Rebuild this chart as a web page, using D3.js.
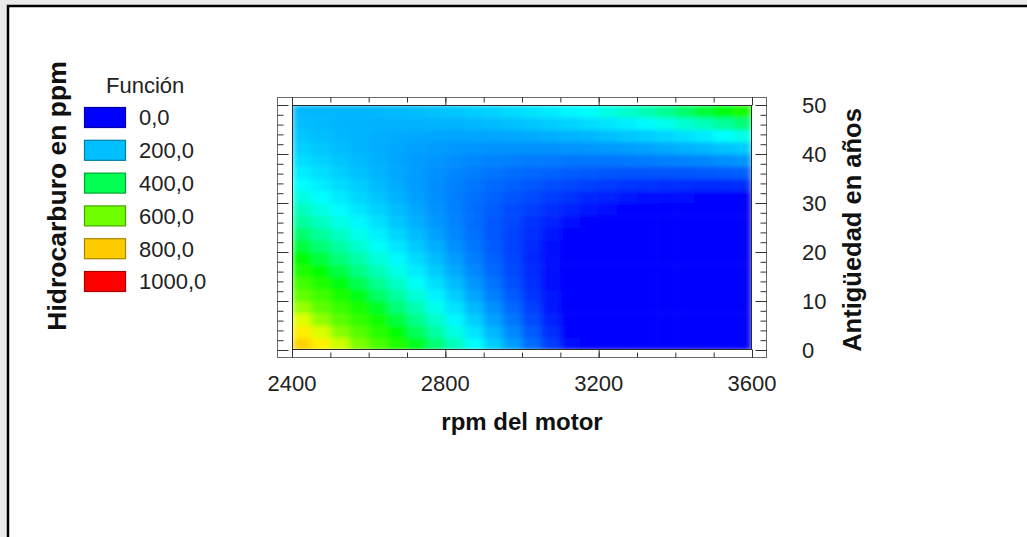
<!DOCTYPE html>
<html>
<head>
<meta charset="utf-8">
<script src="https://cdn.jsdelivr.net/npm/d3@7"></script>
<style>
  html, body { margin: 0; padding: 0; background: #ffffff; overflow: hidden; }
  svg { display: block; font-family: "Liberation Sans", Arial, sans-serif; }
</style>
</head>
<body>
<svg id="chart" width="1027" height="537"></svg>
<script>
// ---- data ----
const rpmCenters = [2425,2475,2525,2575,2625,2675,2725,2775,2825,2875,2925,2975,
                    3025,3075,3125,3175,3225,3275,3325,3375,3425,3475,3525,3575];
const ageCenters = [1.25,3.75,6.25,8.75,11.25,13.75,16.25,18.75,21.25,23.75,
                    26.25,28.75,31.25,33.75,36.25,38.75,41.25,43.75,46.25,48.75];
// hydrocarbon (ppm), one row per age, columns follow rpmCenters
const hcByAge = [
  [789,727,666,607,548,490,434,378,323,269,216,164,113,64,15,0,0,0,0,0,0,0,0,0],
  [732,674,616,560,504,450,396,343,292,241,191,143,95,48,2,0,0,0,0,0,0,0,0,0],
  [678,623,569,515,463,412,361,312,263,216,169,124,79,35,0,0,0,0,0,0,0,0,0,0],
  [627,575,524,474,425,376,329,283,238,193,150,107,66,26,0,0,0,0,0,0,0,0,0,0],
  [579,530,482,435,389,344,300,257,215,173,133,94,56,19,0,0,0,0,0,0,0,0,0,0],
  [534,488,443,399,356,314,274,234,195,157,120,83,48,14,0,0,0,0,0,0,0,0,0,0],
  [491,448,407,366,326,288,250,213,177,142,109,76,44,13,0,0,0,0,0,0,0,0,0,0],
  [451,412,373,336,299,264,229,195,163,131,100,71,42,14,0,0,0,0,0,0,0,0,0,0],
  [414,378,343,308,275,242,211,181,151,123,95,69,43,18,0,0,0,0,0,0,0,0,0,0],
  [380,347,315,283,253,224,196,168,142,117,93,69,47,25,5,0,0,0,0,0,0,0,0,0],
  [349,319,290,262,235,208,183,159,136,114,93,73,53,35,18,1,0,0,0,0,0,0,0,0],
  [320,293,267,242,219,196,174,153,133,114,96,79,63,48,33,20,8,0,0,0,0,0,0,0],
  [294,270,248,226,205,186,167,149,132,117,102,88,75,63,52,42,33,25,18,12,7,2,0,0],
  [271,251,231,213,195,179,163,148,135,122,110,100,90,81,73,67,61,56,52,49,47,46,46,47],
  [251,234,217,202,188,174,162,150,140,130,122,114,108,102,97,94,91,89,89,89,90,92,95,99],
  [233,219,206,194,183,173,163,155,148,141,136,132,128,126,124,124,124,126,128,132,136,141,148,155],
  [219,208,198,189,181,174,168,163,159,155,153,152,152,152,154,157,160,165,171,177,185,193,203,213],
  [207,199,192,187,182,178,175,173,172,172,173,175,178,182,187,192,199,207,216,225,236,250,270,290],
  [198,193,190,187,185,185,185,186,188,191,196,201,207,214,222,231,241,252,266,285,305,325,350,375],
  [192,190,190,190,192,194,198,202,207,214,221,229,239,249,260,275,292,310,330,355,385,415,445,475]
];
const xTickValues = [2400,2800,3200,3600];
const xTickLabels = ["2400","2800","3200","3600"];
const yTickValues = [0,10,20,30,40,50];
const yTickLabels = ["0","10","20","30","40","50"];
const legendValues = [0,200,400,600,800,1000];
const legendLabels = ["0,0","200,0","400,0","600,0","800,0","1000,0"];
const legendTitle = "Función";
const xTitle = "rpm del motor";
const yTitle = "Antigüedad en años";
const zTitle = "Hidrocarburo en ppm";

// ---- drawing ----
const svg = d3.select("#chart");
const W = 1027, H = 537;
const plot = {left: 292, right: 752, top: 105, bottom: 350};
const frame = {left: 277.5, right: 766.5, top: 97.5, bottom: 357.5};

const x = d3.scaleLinear().domain([2400, 3600]).range([plot.left, plot.right]);
const y = d3.scaleLinear().domain([0, 50]).range([plot.bottom, plot.top]);
const color = d3.scaleLinear()
  .domain([0, 200, 270, 370, 450, 600, 700, 800, 1000])
  .range(["#0000ff", "#00c0ff", "#00ffff", "#00ff80", "#00ff00", "#70ff00", "#ffff00", "#ffcc00", "#ff0000"])
  .clamp(true);

// page background & outer border
svg.append("rect").attr("x", 0).attr("y", 0).attr("width", W).attr("height", H).attr("fill", "#ebebeb");
svg.append("rect").attr("x", 8).attr("y", 6).attr("width", W + 40).attr("height", H + 40)
  .attr("fill", "#ffffff").attr("stroke", "#000").attr("stroke-width", 2.5);

// plot frame
svg.append("rect").attr("x", frame.left).attr("y", frame.top)
  .attr("width", frame.right - frame.left).attr("height", frame.bottom - frame.top)
  .attr("fill", "#fff").attr("stroke", "#6a6a6a").attr("stroke-width", 1);

// heatmap
const defs = svg.append("defs");
const filt = defs.append("filter").attr("id", "smooth")
  .attr("x", 0).attr("y", 0).attr("width", 1).attr("height", 1);
filt.append("feGaussianBlur").attr("stdDeviation", "3.5 2.2").attr("edgeMode", "duplicate");
defs.append("clipPath").attr("id", "plotclip").append("rect")
  .attr("x", plot.left).attr("y", plot.top)
  .attr("width", plot.right - plot.left).attr("height", plot.bottom - plot.top);

const cells = [];
hcByAge.forEach((row, j) => row.forEach((v, i) => cells.push({rpm: rpmCenters[i], age: ageCenters[j], v})));
const halfR = 25, halfA = 1.25;
svg.append("g").attr("clip-path", "url(#plotclip)")
  .append("g").attr("filter", "url(#smooth)")
  .selectAll("rect").data(cells).join("rect")
  .attr("x", d => x(d.rpm - halfR))
  .attr("y", d => y(d.age + halfA))
  .attr("width", d => x(d.rpm + halfR) - x(d.rpm - halfR) + 0.5)
  .attr("height", d => y(d.age - halfA) - y(d.age + halfA) + 0.5)
  .attr("fill", d => color(d.v));

svg.append("rect").attr("x", plot.left + 0.5).attr("y", plot.top + 0.5)
  .attr("width", plot.right - plot.left - 1).attr("height", plot.bottom - plot.top - 1)
  .attr("fill", "none").attr("stroke", "#2a2a2a").attr("stroke-width", 1);

// ticks
const tickColor = "#333";
function styleAxis(g) {
  g.select(".domain").remove();
  g.selectAll(".tick line").attr("stroke", tickColor);
  g.selectAll(".tick text").remove();
}
const xMinor = d3.range(2400, 3601, 100);
const yMinor = d3.range(0, 51, 2);
svg.append("g").attr("transform", `translate(0,${frame.bottom})`)
  .call(d3.axisTop(x).tickValues(xMinor).tickSize(5)).call(styleAxis);
svg.append("g").attr("transform", `translate(0,${frame.bottom})`)
  .call(d3.axisTop(x).tickValues(xTickValues).tickSize(8)).call(styleAxis);
svg.append("g").attr("transform", `translate(0,${frame.top})`)
  .call(d3.axisBottom(x).tickValues(xMinor).tickSize(5)).call(styleAxis);
svg.append("g").attr("transform", `translate(0,${frame.top})`)
  .call(d3.axisBottom(x).tickValues(xTickValues).tickSize(8)).call(styleAxis);
svg.append("g").attr("transform", `translate(${frame.left},0)`)
  .call(d3.axisRight(y).tickValues(yMinor).tickSize(6)).call(styleAxis);
svg.append("g").attr("transform", `translate(${frame.left},0)`)
  .call(d3.axisRight(y).tickValues(yTickValues).tickSize(11)).call(styleAxis);
svg.append("g").attr("transform", `translate(${frame.right},0)`)
  .call(d3.axisLeft(y).tickValues(yMinor).tickSize(6)).call(styleAxis);
svg.append("g").attr("transform", `translate(${frame.right},0)`)
  .call(d3.axisLeft(y).tickValues(yTickValues).tickSize(11)).call(styleAxis);

// tick labels
const tickFont = 22;
svg.append("g").selectAll("text").data(xTickValues).join("text")
  .attr("x", d => x(d)).attr("y", 391)
  .attr("text-anchor", "middle").attr("font-size", tickFont).attr("fill", "#222")
  .text((d, i) => xTickLabels[i]);
svg.append("g").selectAll("text").data(yTickValues).join("text")
  .attr("x", 802).attr("y", d => y(d))
  .attr("dy", "0.36em")
  .attr("text-anchor", "start").attr("font-size", tickFont).attr("fill", "#222")
  .text((d, i) => yTickLabels[i]);

// axis titles
svg.append("text").attr("x", (plot.left + plot.right) / 2).attr("y", 430)
  .attr("text-anchor", "middle").attr("font-size", 24).attr("font-weight", "bold").attr("fill", "#111")
  .text(xTitle);
svg.append("text").attr("transform", "translate(861,230) rotate(-90)")
  .attr("text-anchor", "middle").attr("font-size", 25.5).attr("font-weight", "bold").attr("fill", "#111")
  .text(yTitle);
svg.append("text").attr("transform", "translate(66,196) rotate(-90)")
  .attr("text-anchor", "middle").attr("font-size", 26.5).attr("font-weight", "bold").attr("fill", "#111")
  .text(zTitle);

// legend
const leg = svg.append("g");
leg.append("text").attr("x", 106).attr("y", 93).attr("font-size", tickFont).attr("fill", "#222").text(legendTitle);
const rowStep = 32.8;
const legRows = leg.selectAll("g.row").data(legendValues).join("g").attr("class", "row")
  .attr("transform", (d, i) => `translate(0,${107 + i * rowStep})`);
legRows.append("rect").attr("x", 84.5).attr("y", 0.5).attr("width", 41).attr("height", 20)
  .attr("fill", d => color(d))
  .attr("stroke", d => d3.color(color(d)).darker(1.2))
  .attr("stroke-width", 1.2);
legRows.append("text").attr("x", 139).attr("y", 10.5).attr("dy", "0.36em")
  .attr("font-size", tickFont).attr("fill", "#222")
  .text((d, i) => legendLabels[i]);
</script>
</body>
</html>
